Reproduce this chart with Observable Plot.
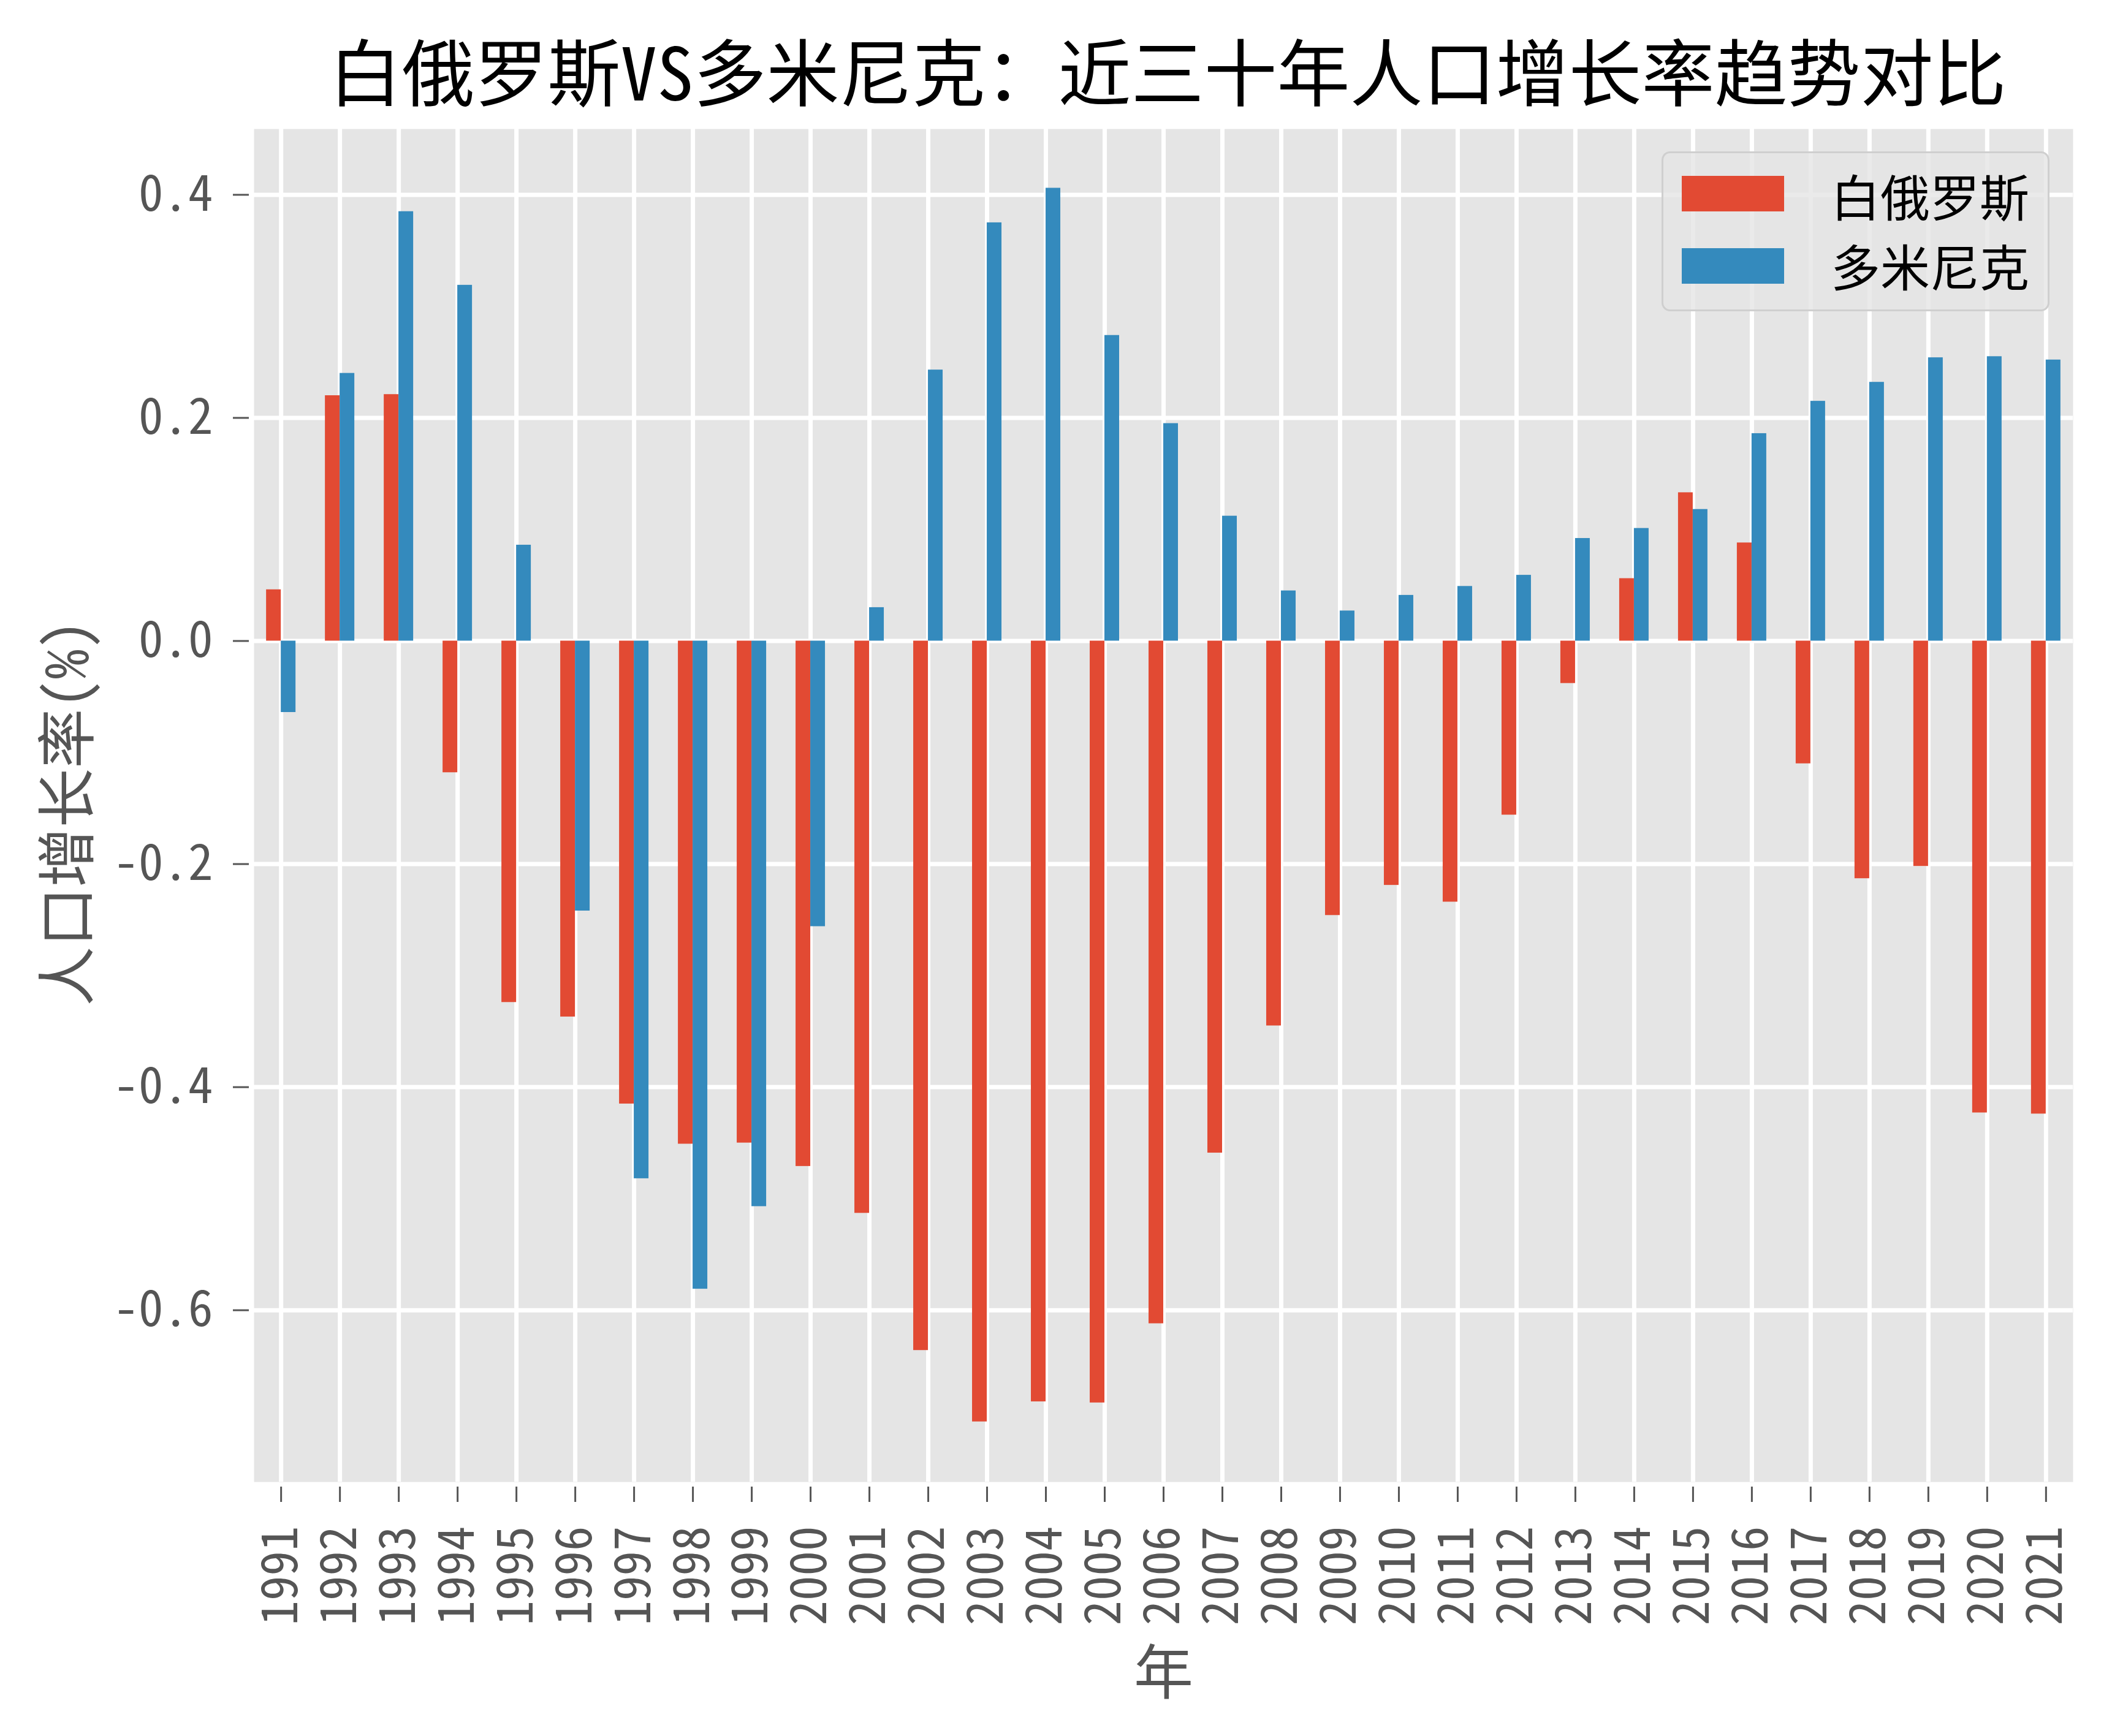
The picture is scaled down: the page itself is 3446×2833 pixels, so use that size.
<!DOCTYPE html>
<html><head><meta charset="utf-8">
<script src="https://cdn.jsdelivr.net/npm/d3@7"></script>
<script src="https://cdn.jsdelivr.net/npm/@observablehq/plot@0.6"></script>
<style>
body{margin:0;background:#fff;}
#wrap{position:relative;width:3446px;height:2833px;font-family:"Noto Sans Mono CJK SC","Noto Sans CJK SC",sans-serif;}
#title{position:absolute;left:428px;width:2954px;top:53px;text-align:center;font-size:119px;line-height:119px;color:#000;white-space:nowrap;}
#chart{position:absolute;left:0;top:210px;}
#legend{position:absolute;left:2711px;top:247px;width:633px;height:261px;box-sizing:border-box;background:rgba(229,229,229,0.8);border:3px solid #cfcfcf;border-radius:14px;}
.patch{position:absolute;left:30px;width:167px;height:58px;}
.lab{position:absolute;left:273px;font-size:81px;line-height:81px;color:#000;white-space:nowrap;}
</style></head>
<body>
<div id="wrap">
  <div id="title"></div>
  <div id="chart"></div>
  <div id="legend"></div>
</div>
<script>
const titleText = "白俄罗斯VS多米尼克：近三十年人口增长率趋势对比";
const xLabel = "年";
const yLabel = "人口增长率(%)";
const seriesNames = ["白俄罗斯", "多米尼克"];
const seriesColors = ["#E24A33", "#348ABD"];
const years = [1991,1992,1993,1994,1995,1996,1997,1998,1999,2000,2001,2002,2003,2004,2005,2006,2007,2008,2009,2010,2011,2012,2013,2014,2015,2016,2017,2018,2019,2020,2021];
const belarus = [0.046,0.220,0.221,-0.118,-0.324,-0.337,-0.415,-0.451,-0.450,-0.471,-0.513,-0.636,-0.700,-0.682,-0.683,-0.612,-0.459,-0.345,-0.246,-0.219,-0.234,-0.156,-0.038,0.056,0.133,0.088,-0.110,-0.213,-0.202,-0.423,-0.424];
const dominica = [-0.064,0.240,0.385,0.319,0.086,-0.242,-0.482,-0.581,-0.507,-0.256,0.030,0.243,0.375,0.406,0.274,0.195,0.112,0.045,0.027,0.041,0.049,0.059,0.092,0.101,0.118,0.186,0.215,0.232,0.254,0.255,0.252];
const yTicks = [-0.6,-0.4,-0.2,0.0,0.2,0.4];

const table = years.flatMap((yr, i) => [
  {year: yr, series: seriesNames[0], value: belarus[i]},
  {year: yr, series: seriesNames[1], value: dominica[i]}
]);
const barW = 0.25;

document.getElementById("title").textContent = titleText;

const chart = Plot.plot({
  width: 3446,
  height: 2623,
  marginTop: 0,
  marginLeft: 414,
  marginRight: 64,
  marginBottom: 415,
  style: {fontFamily: '"Noto Sans Mono CJK SC","Noto Sans CJK SC",sans-serif', fontSize: "81px", color: "#555", background: "white"},
  x: {domain: [1990.54, 2021.46]},
  y: {domain: [-0.754, 0.459]},
  color: {domain: seriesNames, range: seriesColors},
  marks: [
    Plot.frame({fill: "#E5E5E5", stroke: "none"}),
    Plot.gridX(years, {stroke: "white", strokeOpacity: 1, strokeWidth: 7}),
    Plot.gridY(yTicks, {stroke: "white", strokeOpacity: 1, strokeWidth: 7}),
    Plot.rectY(table, {
      x1: d => d.series === seriesNames[0] ? d.year - barW : d.year,
      x2: d => d.series === seriesNames[0] ? d.year : d.year + barW,
      y1: 0, y2: "value", fill: "series"
    }),
    Plot.axisX(years, {tickSize: 25, tickPadding: 39, tickRotate: -90, tickFormat: d => String(d), dy: 8, fontSize: 81, color: "#555", strokeWidth: 3, label: null}),
    Plot.axisY(yTicks, {tickSize: 26, tickPadding: 33, dx: -8, tickFormat: d => d.toFixed(1), fontSize: 81, color: "#555", strokeWidth: 3, label: null}),
    Plot.text([xLabel], {frameAnchor: "bottom", dy: 314, lineAnchor: "middle", textAnchor: "middle", fontSize: 97, fill: "#555"}),
    Plot.text([yLabel], {frameAnchor: "left", dx: -302, dy: 12, rotate: -90, lineAnchor: "middle", textAnchor: "middle", fontSize: 97, fill: "#555"})
  ]
});
document.getElementById("chart").appendChild(chart);

const legend = document.getElementById("legend");
seriesNames.forEach((name, i) => {
  const p = document.createElement("div");
  p.className = "patch";
  p.style.top = (37 + i * 118) + "px";
  p.style.background = seriesColors[i];
  legend.appendChild(p);
  const t = document.createElement("div");
  t.className = "lab";
  t.style.top = (27 + i * 114) + "px";
  t.textContent = name;
  legend.appendChild(t);
});
</script>
</body></html>
